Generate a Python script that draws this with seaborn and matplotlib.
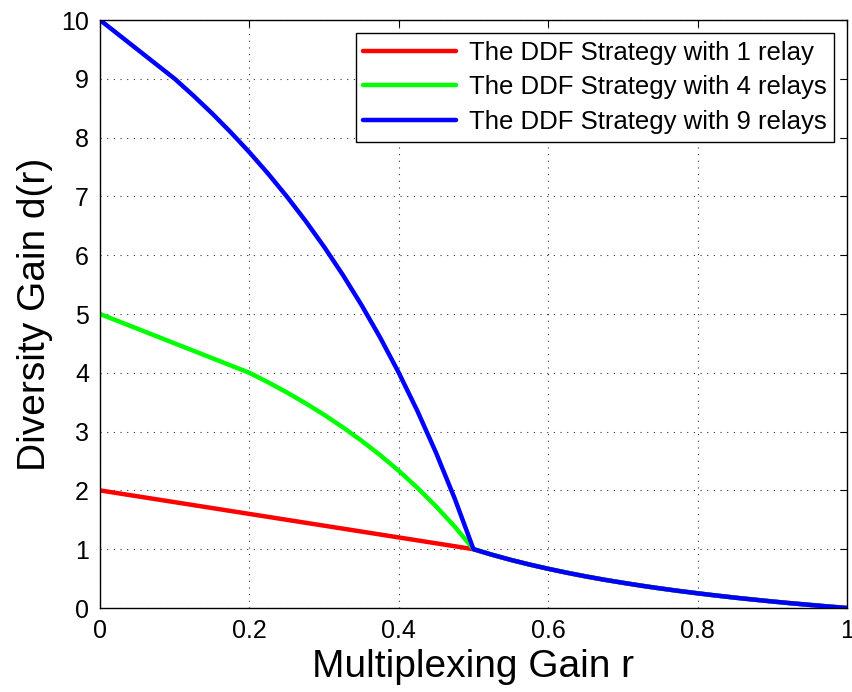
import numpy as np
import pandas as pd
import matplotlib
matplotlib.use("Agg")
import matplotlib.pyplot as plt
import seaborn as sns

# Multiplexing gain samples
r = [0.000, 0.025, 0.050, 0.075, 0.100, 0.125, 0.150, 0.175, 0.200, 0.225,
     0.250, 0.275, 0.300, 0.325, 0.350, 0.375, 0.400, 0.425, 0.450, 0.475,
     0.500, 0.525, 0.550, 0.575, 0.600, 0.625, 0.650, 0.675, 0.700, 0.725,
     0.750, 0.775, 0.800, 0.825, 0.850, 0.875, 0.900, 0.925, 0.950, 0.975,
     1.000]

# Shared high-rate tail (r >= 0.5)
tail = [1.000, 0.905, 0.818, 0.739, 0.667, 0.600, 0.538, 0.481, 0.429, 0.379,
        0.333, 0.290, 0.250, 0.212, 0.176, 0.143, 0.111, 0.081, 0.053, 0.026,
        0.000]

d_1relay = [2.000, 1.950, 1.900, 1.850, 1.800, 1.750, 1.700, 1.650, 1.600, 1.550,
            1.500, 1.450, 1.400, 1.350, 1.300, 1.250, 1.200, 1.150, 1.100, 1.050] + tail

d_4relays = [5.000, 4.875, 4.750, 4.625, 4.500, 4.375, 4.250, 4.125, 4.000, 3.839,
             3.667, 3.483, 3.286, 3.074, 2.846, 2.600, 2.333, 2.043, 1.727, 1.381] + tail

d_9relays = [10.000, 9.750, 9.500, 9.250, 9.000, 8.714, 8.412, 8.091, 7.750, 7.387,
             7.000, 6.586, 6.143, 5.667, 5.154, 4.600, 4.000, 3.348, 2.636, 1.857] + tail

labels = ["The DDF Strategy with 1 relay",
          "The DDF Strategy with 4 relays",
          "The DDF Strategy with 9 relays"]
colors = ["#ff0000", "#00ff00", "#0000ff"]

x_ticks = [0, 0.2, 0.4, 0.6, 0.8, 1]
x_tick_labels = ["0", "0.2", "0.4", "0.6", "0.8", "1"]
y_ticks = list(range(0, 11))

df = pd.concat([
    pd.DataFrame({"r": r, "d": d, "series": lab})
    for d, lab in zip([d_1relay, d_4relays, d_9relays], labels)
], ignore_index=True)

sns.set_style("white")
plt.rcParams["font.family"] = ["Liberation Sans", "DejaVu Sans"]
plt.rcParams["text.color"] = "black"
plt.rcParams["axes.labelcolor"] = "black"

fig = plt.figure(figsize=(8.53, 6.92), dpi=100)
ax = fig.add_axes([100 / 853, (692 - 608) / 692, 747 / 853, 588 / 692])

sns.lineplot(data=df, x="r", y="d", hue="series", hue_order=labels,
             palette=colors, linewidth=3.2, ax=ax, sort=False, estimator=None)

ax.set_xlim(0, 1)
ax.set_ylim(0, 10)
ax.set_xticks(x_ticks)
ax.set_xticklabels(x_tick_labels)
ax.set_yticks(y_ticks)
ax.tick_params(direction="in", length=5, width=0.8, top=True, right=True,
               labelsize=18, colors="black", pad=8)
for s in ax.spines.values():
    s.set_color("black")
    s.set_linewidth(1.0)
    s.set_visible(True)

ax.grid(True, color="black", linestyle=(0, (1, 5)), linewidth=0.8, alpha=0.8)
ax.set_axisbelow(True)

ax.set_xlabel("Multiplexing Gain r", fontsize=28, labelpad=4, color="black")
ax.set_ylabel("Diversity Gain d(r)", fontsize=28, labelpad=6, color="black")

leg = ax.legend(loc="upper right", fontsize=18.5, frameon=True, fancybox=False,
                edgecolor="black", framealpha=1, handlelength=3.6,
                borderaxespad=0.5, borderpad=0.3, labelspacing=0.42,
                handletextpad=0.5)
leg.get_frame().set_linewidth(1.0)
for t in leg.get_texts():
    t.set_color("black")

fig.savefig("out.png", dpi=100, facecolor="white")
